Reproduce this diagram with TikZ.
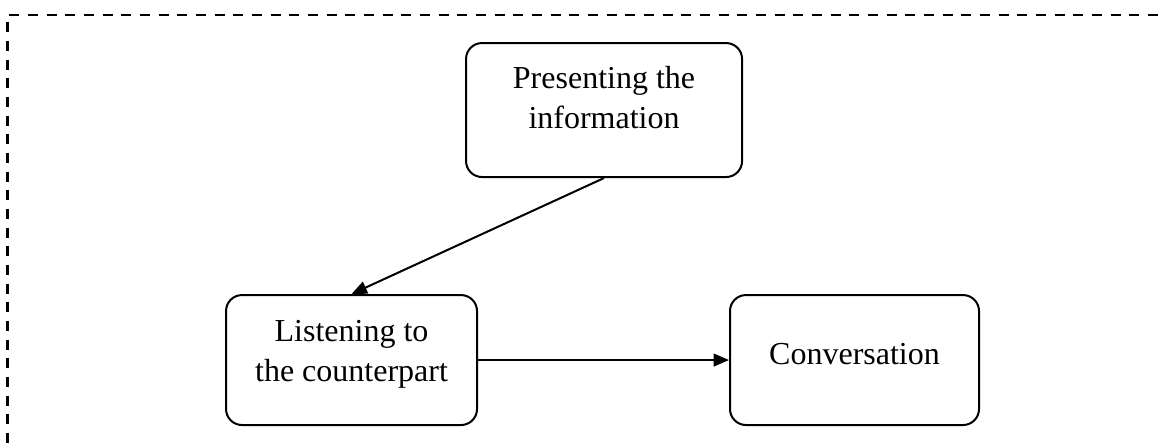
\documentclass[tikz,border=0pt]{standalone}
\usepackage{fontspec}
\setmainfont{Liberation Serif}
\usetikzlibrary{arrows.meta}

\begin{document}
\begin{tikzpicture}[
    stage/.style={draw, line width=0.75pt, rounded corners=6pt, align=center,
        font=\fontsize{12}{15}\selectfont, inner sep=0pt},
    link/.style={line width=0.75pt, -{Triangle[length=5.8pt, width=4.8pt]}}
  ]
    \useasboundingbox (0,0) rectangle (15.262,5.839);

    % Frame
    \draw[line width=1.1pt, dash pattern=on 3.8pt off 3.2pt] (0.105,0) -- (0.105,5.641) -- (15.262,5.641);

    % Stages
    \node[stage, minimum width=3.638cm, minimum height=1.766cm, text depth=9.8pt] (present) at (7.961, 4.389) {Presenting the\\information};
    \node[stage, minimum width=3.308cm, minimum height=1.713cm, text depth=6.7pt] (listen) at (4.633, 1.094) {Listening to\\the counterpart};
    \node[stage, minimum width=3.282cm, minimum height=1.713cm, text depth=4.5pt] (convo) at (11.262, 1.094) {Conversation};

    % Links
    \draw[link] (present.south) -- (listen.north);
    \draw[link] (listen.east) -- (convo.west);
\end{tikzpicture}
\end{document}
